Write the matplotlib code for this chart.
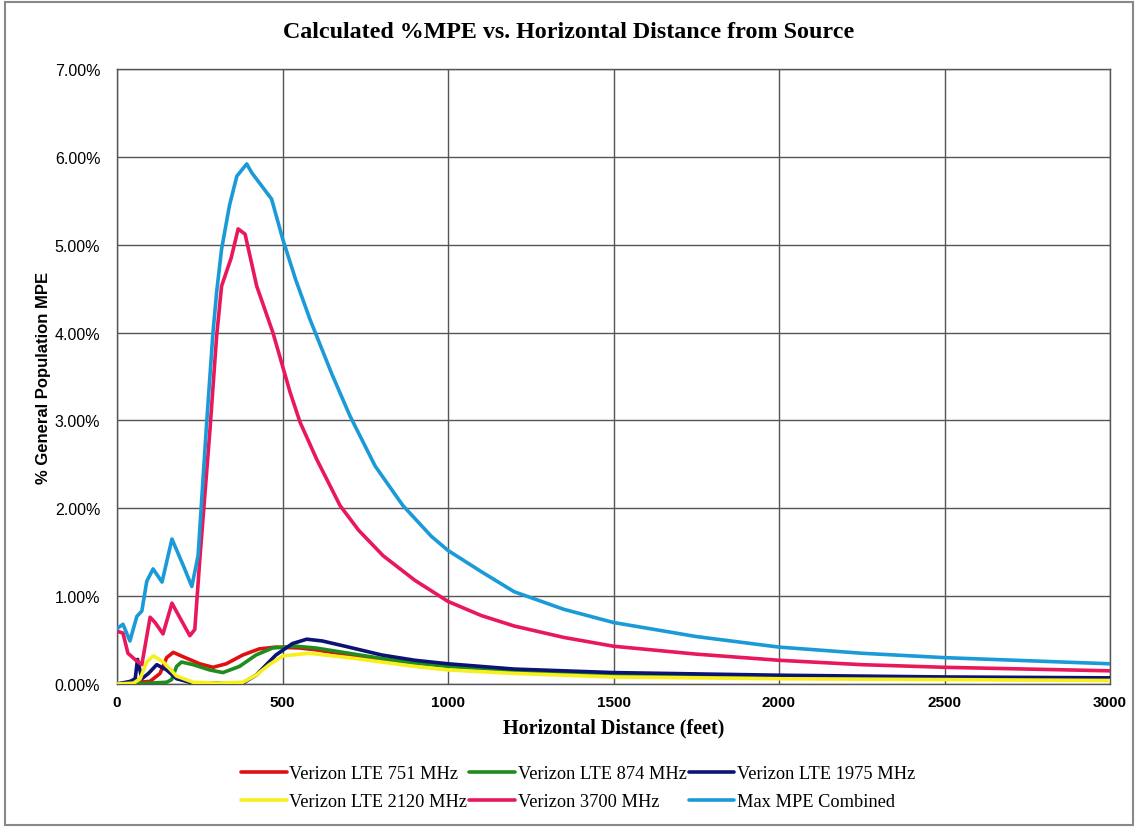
import matplotlib
matplotlib.use("Agg")
import matplotlib.pyplot as plt
from matplotlib.patches import Rectangle
from matplotlib.ticker import FuncFormatter

# horizontal distance (feet) and % of general population MPE
lte751_x = [0, 60, 100, 130, 150, 170, 200, 250, 290, 330, 380, 430, 480, 550, 600, 700, 800, 900, 1000, 1200, 1500, 2000, 2500, 3000]
lte751_y = [0.00, 0.02, 0.03, 0.12, 0.30, 0.36, 0.31, 0.23, 0.19, 0.23, 0.33, 0.40, 0.42, 0.41, 0.39, 0.33, 0.28, 0.24, 0.21, 0.16, 0.12, 0.09, 0.07, 0.06]

lte874_x = [0, 100, 150, 165, 180, 195, 230, 280, 320, 370, 420, 470, 540, 600, 700, 800, 900, 1000, 1200, 1500, 2000, 2500, 3000]
lte874_y = [0.00, 0.01, 0.02, 0.05, 0.20, 0.25, 0.22, 0.16, 0.13, 0.20, 0.33, 0.41, 0.43, 0.41, 0.35, 0.29, 0.24, 0.20, 0.15, 0.11, 0.08, 0.07, 0.06]

lte1975_x = [0, 40, 55, 62, 75, 95, 120, 150, 180, 230, 300, 380, 420, 480, 530, 573, 620, 700, 800, 900, 1000, 1200, 1500, 2000, 2500, 3000]
lte1975_y = [0.00, 0.03, 0.06, 0.28, 0.06, 0.12, 0.22, 0.16, 0.06, 0.01, 0.01, 0.01, 0.10, 0.33, 0.46, 0.51, 0.49, 0.42, 0.33, 0.27, 0.23, 0.17, 0.13, 0.10, 0.08, 0.07]

lte2120_x = [0, 50, 70, 90, 110, 140, 180, 230, 300, 380, 420, 460, 502, 580, 700, 800, 900, 1000, 1200, 1500, 2000, 2500, 3000]
lte2120_y = [0.00, 0.01, 0.06, 0.25, 0.32, 0.25, 0.09, 0.02, 0.01, 0.02, 0.10, 0.22, 0.32, 0.35, 0.30, 0.25, 0.20, 0.16, 0.12, 0.08, 0.06, 0.05, 0.04]

v3700_x = [0, 18, 33, 54, 75, 100, 115, 139, 166, 195, 220, 235, 251, 281, 301, 316, 345, 366, 387, 422, 471, 523, 553, 603, 674, 730, 804, 900, 1000, 1100, 1200, 1350, 1500, 1750, 2000, 2250, 2500, 3000]
v3700_y = [0.60, 0.58, 0.35, 0.28, 0.22, 0.76, 0.70, 0.57, 0.92, 0.72, 0.55, 0.62, 1.46, 2.90, 3.96, 4.53, 4.85, 5.18, 5.12, 4.53, 4.00, 3.32, 2.98, 2.56, 2.03, 1.75, 1.46, 1.18, 0.94, 0.78, 0.66, 0.53, 0.43, 0.34, 0.27, 0.22, 0.19, 0.15]

maxmpe_x = [0, 18, 39, 60, 75, 90, 109, 136, 166, 200, 226, 245, 271, 290, 301, 316, 340, 362, 392, 407, 467, 501, 540, 583, 650, 704, 780, 864, 950, 1000, 1100, 1200, 1350, 1500, 1750, 2000, 2250, 2500, 3000]
maxmpe_y = [0.63, 0.68, 0.49, 0.77, 0.83, 1.17, 1.31, 1.16, 1.65, 1.35, 1.11, 1.46, 2.98, 4.00, 4.46, 4.95, 5.45, 5.78, 5.92, 5.82, 5.52, 5.06, 4.60, 4.15, 3.52, 3.05, 2.48, 2.03, 1.68, 1.52, 1.28, 1.05, 0.85, 0.70, 0.54, 0.42, 0.35, 0.30, 0.23]

series = [
    ("Verizon LTE 751 MHz", lte751_x, lte751_y, "#e01010"),
    ("Verizon LTE 874 MHz", lte874_x, lte874_y, "#1e8c1e"),
    ("Verizon LTE 1975 MHz", lte1975_x, lte1975_y, "#0b1472"),
    ("Verizon LTE 2120 MHz", lte2120_x, lte2120_y, "#f7f01c"),
    ("Verizon 3700 MHz", v3700_x, v3700_y, "#e8185a"),
    ("Max MPE Combined", maxmpe_x, maxmpe_y, "#1b9ad8"),
]

x_ticks = [0, 500, 1000, 1500, 2000, 2500, 3000]
y_ticks = [0, 1, 2, 3, 4, 5, 6, 7]

serif = ["Liberation Serif", "DejaVu Serif"]
sans = ["Liberation Sans", "DejaVu Sans"]

fig = plt.figure(figsize=(11.38, 8.29), dpi=100)
ax = fig.add_axes([117 / 1138, 1 - 685 / 829, (1110 - 117) / 1138, (685 - 70) / 829])

handles = {}
for label, xs, ys, color in series:
    (line,) = ax.plot(xs, ys, color=color, lw=2.6, label=label,
                      solid_capstyle="round", solid_joinstyle="round", zorder=3)
    handles[label] = line

ax.set_xlim(0, 3000)
ax.set_ylim(0, 7)
ax.set_xticks(x_ticks)
ax.set_yticks(y_ticks)
ax.yaxis.set_major_formatter(FuncFormatter(lambda v, _: f"{v:.2f}%"))
ax.grid(True, color="#555555", lw=1.0, zorder=0)
ax.tick_params(axis="x", length=0, pad=8)
ax.tick_params(axis="y", length=0, pad=12)
for lbl in ax.get_xticklabels():
    lbl.set_family(sans)
    lbl.set_fontweight("bold")
    lbl.set_fontsize(11)
for lbl in ax.get_yticklabels():
    lbl.set_family(sans)
    lbl.set_fontsize(11.5)
for sp in ax.spines.values():
    sp.set_color("#555555")
    sp.set_linewidth(1.0)

ax.set_xlabel("Horizontal Distance (feet)", family=serif, fontweight="bold", fontsize=14.5, labelpad=6)
ax.set_ylabel("% General Population MPE", family=sans, fontweight="bold", fontsize=12)
ax.yaxis.set_label_coords(-0.066, 0.5)
fig.text(0.5, 1 - 32 / 829, "Calculated %MPE vs. Horizontal Distance from Source",
         ha="center", va="center", family=serif, fontweight="bold", fontsize=17.3)

# legend fills column-wise, so order handles to read row by row
order = ["Verizon LTE 751 MHz", "Verizon LTE 2120 MHz", "Verizon LTE 874 MHz",
         "Verizon 3700 MHz", "Verizon LTE 1975 MHz", "Max MPE Combined"]
fig.legend([handles[k] for k in order], order, ncol=3, loc="center",
           bbox_to_anchor=(0.508, 1 - 789 / 829), frameon=False,
           prop={"family": serif, "size": 13.2}, handlelength=2.5, handletextpad=0.15,
           columnspacing=0.1, labelspacing=0.6)

fig.patches.append(Rectangle((0.004, 0.004), 0.992, 0.992, transform=fig.transFigure,
                             fill=False, edgecolor="#888888", lw=1.5))

fig.savefig("out.png", dpi=100, facecolor="white")
